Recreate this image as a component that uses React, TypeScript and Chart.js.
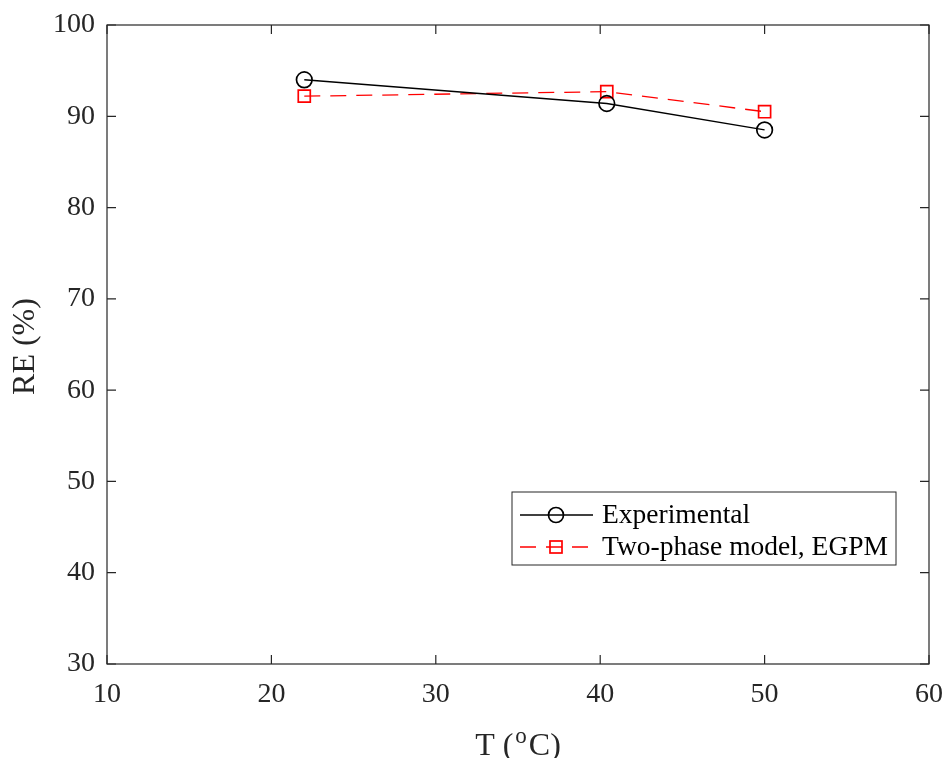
import React, { useEffect, useRef } from "react";
import { Chart, registerables } from "chart.js";

Chart.register(...registerables);

const temperatures = [22, 40.4, 50];
const experimentalRE = [94.0, 91.4, 88.5];
const twoPhaseRE = [92.2, 92.7, 90.5];
const xTicks = [10, 20, 30, 40, 50, 60];
const yTicks = [30, 40, 50, 60, 70, 80, 90, 100];
const legendLabels = ["Experimental", "Two-phase model, EGPM"];
const yTitle = "RE (%)";

const FONT = "'Liberation Serif', 'Times New Roman', serif";
const AXIS = "#262626";

const framePlugin = {
  id: "matlabFrame",
  afterDraw(chart: any) {
    const { ctx, chartArea } = chart;
    const { left, right, top, bottom } = chartArea;
    const xs = chart.scales.x;
    const ys = chart.scales.y;
    ctx.save();
    ctx.strokeStyle = AXIS;
    ctx.lineWidth = 1.2;
    ctx.setLineDash([]);
    ctx.strokeRect(left, top, right - left, bottom - top);
    const tl = 9;
    ctx.beginPath();
    xTicks.forEach((v) => {
      const px = xs.getPixelForValue(v);
      ctx.moveTo(px, bottom);
      ctx.lineTo(px, bottom - tl);
      ctx.moveTo(px, top);
      ctx.lineTo(px, top + tl);
    });
    yTicks.forEach((v) => {
      const py = ys.getPixelForValue(v);
      ctx.moveTo(left, py);
      ctx.lineTo(left + tl, py);
      ctx.moveTo(right, py);
      ctx.lineTo(right - tl, py);
    });
    ctx.stroke();

    // y title
    ctx.fillStyle = AXIS;
    ctx.font = `32px ${FONT}`;
    ctx.save();
    ctx.translate(26, (top + bottom) / 2 + 2);
    ctx.rotate(-Math.PI / 2);
    ctx.textAlign = "center";
    ctx.textBaseline = "middle";
    ctx.fillText(yTitle, 0, 0);
    ctx.restore();

    // x title with superscript
    const p1 = "T (";
    const sup = "o";
    const p2 = "C)";
    ctx.font = `32px ${FONT}`;
    const w1 = ctx.measureText(p1).width;
    const w3 = ctx.measureText(p2).width;
    ctx.font = `23px ${FONT}`;
    const w2 = ctx.measureText(sup).width;
    const gap = 2;
    const total = w1 + gap + w2 + gap + w3;
    const cx = (left + right) / 2;
    const base = 755;
    const x0 = cx - total / 2;
    ctx.textAlign = "left";
    ctx.textBaseline = "alphabetic";
    ctx.font = `32px ${FONT}`;
    ctx.fillText(p1, x0, base);
    ctx.font = `23px ${FONT}`;
    ctx.fillText(sup, x0 + w1 + gap, base - 12);
    ctx.font = `32px ${FONT}`;
    ctx.fillText(p2, x0 + w1 + gap + w2 + gap, base);

    // legend
    const lx = 512, ly = 492, lw = 384, lh = 73;
    ctx.fillStyle = "#ffffff";
    ctx.fillRect(lx, ly, lw, lh);
    ctx.strokeStyle = AXIS;
    ctx.lineWidth = 1;
    ctx.strokeRect(lx, ly, lw, lh);
    const rows = [ly + 23, ly + 55];
    // row 1
    ctx.strokeStyle = "#000000";
    ctx.lineWidth = 1.3;
    ctx.beginPath();
    ctx.moveTo(520, rows[0]);
    ctx.lineTo(593, rows[0]);
    ctx.stroke();
    ctx.lineWidth = 1.7;
    ctx.beginPath();
    ctx.arc(556, rows[0], 7.5, 0, Math.PI * 2);
    ctx.stroke();
    // row 2
    ctx.strokeStyle = "#ff0000";
    ctx.lineWidth = 1.3;
    ctx.setLineDash([16, 10]);
    ctx.lineDashOffset = 0;
    ctx.beginPath();
    ctx.moveTo(520, rows[1]);
    ctx.lineTo(593, rows[1]);
    ctx.stroke();
    ctx.setLineDash([]);
    ctx.lineWidth = 1.7;
    ctx.strokeRect(550, rows[1] - 6, 12, 12);
    ctx.fillStyle = "#000000";
    ctx.font = `27.5px ${FONT}`;
    ctx.textBaseline = "middle";
    ctx.textAlign = "left";
    ctx.fillText(legendLabels[0], 602, rows[0] + 1);
    ctx.fillText(legendLabels[1], 602, rows[1] + 1);
    ctx.restore();
  },
};

export default function App() {
  const ref = useRef<HTMLCanvasElement | null>(null);
  useEffect(() => {
    if (!ref.current) return;
    const chart = new Chart(ref.current, {
      type: "line",
      data: {
        datasets: [
          {
            label: legendLabels[0],
            data: temperatures.map((t, i) => ({ x: t, y: experimentalRE[i] })),
            borderColor: "#000000",
            borderWidth: 1.3,
            pointStyle: "circle",
            pointRadius: 7.8,
            pointBorderWidth: 1.7,
            pointBorderColor: "#000000",
            pointBackgroundColor: "rgba(0,0,0,0)",
            tension: 0,
          },
          {
            label: legendLabels[1],
            data: temperatures.map((t, i) => ({ x: t, y: twoPhaseRE[i] })),
            borderColor: "#ff0000",
            borderWidth: 1.3,
            borderDash: [16, 10],
            pointStyle: "rect",
            pointRadius: 8.5,
            pointBorderWidth: 1.7,
            pointBorderColor: "#ff0000",
            pointBackgroundColor: "rgba(0,0,0,0)",
            tension: 0,
          },
        ],
      },
      options: {
        animation: false,
        responsive: false,
        maintainAspectRatio: false,
        layout: { padding: { top: 25, right: 18, left: 0, bottom: 0 } },
        plugins: { legend: { display: false }, tooltip: { enabled: false } },
        scales: {
          x: {
            type: "linear",
            min: xTicks[0],
            max: xTicks[xTicks.length - 1],
            afterBuildTicks: (s: any) => {
              s.ticks = xTicks.map((v) => ({ value: v }));
            },
            afterFit: (s: any) => {
              s.height = 94;
              s.paddingLeft = 0;
              s.paddingRight = 0;
            },
            grid: { display: false, drawTicks: false },
            border: { display: false },
            ticks: {
              color: AXIS,
              font: { family: FONT, size: 28 },
              padding: 14,
              maxRotation: 0,
            },
          },
          y: {
            type: "linear",
            min: yTicks[0],
            max: yTicks[yTicks.length - 1],
            afterBuildTicks: (s: any) => {
              s.ticks = yTicks.map((v) => ({ value: v }));
            },
            afterFit: (s: any) => {
              s.width = 107;
              s.paddingTop = 0;
              s.paddingBottom = 0;
            },
            grid: { display: false, drawTicks: false },
            border: { display: false },
            ticks: {
              color: AXIS,
              font: { family: FONT, size: 28 },
              padding: 12,
            },
          },
        },
      },
      plugins: [framePlugin],
    });
    return () => chart.destroy();
  }, []);
  return (
    <div style={{ position: "absolute", left: 0, top: 0, width: 947, height: 758, background: "#fff" }}>
      <canvas ref={ref} width={947} height={758} style={{ display: "block" }} />
    </div>
  );
}
